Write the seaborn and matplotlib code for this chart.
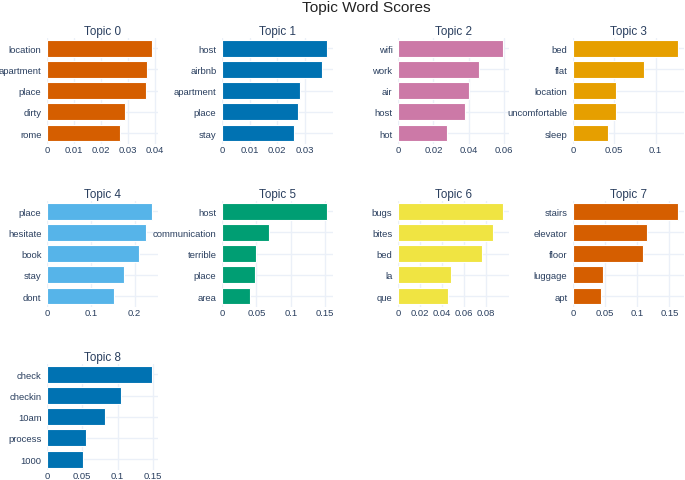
import matplotlib
matplotlib.use("Agg")
import matplotlib.pyplot as plt
import seaborn as sns
import pandas as pd
import numpy as np
from matplotlib.ticker import FixedLocator, FuncFormatter

# topic words and c-TF-IDF scores
topics = ["Topic 0", "Topic 1", "Topic 2", "Topic 3", "Topic 4",
          "Topic 5", "Topic 6", "Topic 7", "Topic 8"]
words = [
    ["location", "apartment", "place", "dirty", "rome"],
    ["host", "airbnb", "apartment", "place", "stay"],
    ["wifi", "work", "air", "host", "hot"],
    ["bed", "flat", "location", "uncomfortable", "sleep"],
    ["place", "hesitate", "book", "stay", "dont"],
    ["host", "communication", "terrible", "place", "area"],
    ["bugs", "bites", "bed", "la", "que"],
    ["stairs", "elevator", "floor", "luggage", "apt"],
    ["check", "checkin", "10am", "process", "1000"],
]
scores = [
    [0.0391, 0.0369, 0.0366, 0.0289, 0.0272],
    [0.0381, 0.0360, 0.0283, 0.0274, 0.0259],
    [0.0596, 0.0460, 0.0404, 0.0381, 0.0279],
    [0.1278, 0.0862, 0.0522, 0.0522, 0.0429],
    [0.241, 0.227, 0.210, 0.175, 0.154],
    [0.1535, 0.069, 0.050, 0.0476, 0.0413],
    [0.0961, 0.0870, 0.0767, 0.0481, 0.0453],
    [0.164, 0.1153, 0.1085, 0.0472, 0.0436],
    [0.1495, 0.1055, 0.0828, 0.0558, 0.0506],
]
tick_steps = [0.01, 0.01, 0.02, 0.05, 0.1, 0.05, 0.02, 0.05, 0.05]
colors = ["#D55E00", "#0072B2", "#CC79A7", "#E69F00", "#56B4E9",
          "#009E73", "#F0E442", "#D55E00", "#0072B2"]

sns.set_style("white")
plt.rcParams["font.family"] = ["Liberation Sans", "DejaVu Sans"]

text_col = "#2a3f5f"
grid_col = "#EBF0F8"

fig = plt.figure(figsize=(6.85, 4.81), dpi=100)

lefts = [47, 222, 398, 573]
tops = [38.7, 201.7, 364.8]
W, H = 111, 105.9
fw, fh = 685, 481

for i, name in enumerate(topics):
    r, c = divmod(i, 4)
    ax = fig.add_axes([lefts[c] / fw, 1 - (tops[r] + H) / fh, W / fw, H / fh])
    df = pd.DataFrame({"word": words[i], "score": scores[i]})
    sns.barplot(data=df, x="score", y="word", orient="h", color=colors[i],
                saturation=1, width=0.8, edgecolor="white", linewidth=0.8,
                ax=ax, zorder=3)
    xmax = max(scores[i]) / 0.95
    ax.set_xlim(0, xmax)
    ax.set_ylim(4.5, -0.5)
    step = tick_steps[i]
    # plotly drops a tick that sits right on the range end
    ticks = [t for t in np.arange(0, xmax, step) if t <= xmax * 0.985]
    ax.xaxis.set_major_locator(FixedLocator(ticks))
    ax.xaxis.set_major_formatter(FuncFormatter(lambda v, p: f"{round(v, 4):g}"))
    ax.grid(True, color=grid_col, linewidth=1, zorder=0)
    ax.set_axisbelow(True)
    for s in ax.spines.values():
        s.set_visible(False)
    ax.tick_params(axis="x", length=0, pad=0.8, labelsize=6.8, colors=text_col)
    ax.tick_params(axis="y", length=0, pad=4, labelsize=6.8, colors=text_col)
    ax.set_xlabel("")
    ax.set_ylabel("")
    ax.set_title(name, fontsize=8.4, color=text_col, pad=2.5)

fig.text(366 / fw, 1 - 8 / fh, "Topic Word Scores", ha="center", va="center",
         fontsize=11.1, color="#222222")

fig.savefig("out.png", dpi=100, facecolor="white")
